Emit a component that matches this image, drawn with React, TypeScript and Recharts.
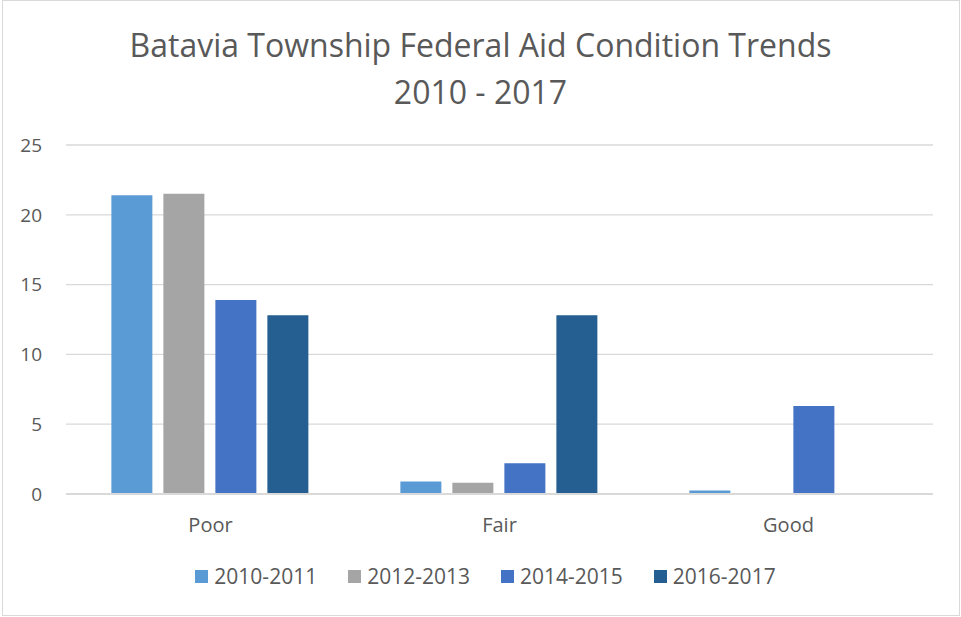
import { BarChart, Bar, XAxis, YAxis, CartesianGrid, Legend } from 'recharts'

const categories = ['Poor', 'Fair', 'Good']
const seriesNames = ['2010-2011', '2012-2013', '2014-2015', '2016-2017']
const values2010 = [21.4, 0.9, 0.25]
const values2012 = [21.5, 0.8, 0]
const values2014 = [13.9, 2.2, 6.3]
const values2016 = [12.8, 12.8, 0]
const yTicks = [0, 5, 10, 15, 20, 25]

const COLORS = ['#5B9BD5', '#A5A5A5', '#4472C4', '#255E91']
const FONT = '"Open Sans", sans-serif'
const TEXT = '#595959'

const data = categories.map((c, i) => ({
  name: c,
  [seriesNames[0]]: values2010[i],
  [seriesNames[1]]: values2012[i],
  [seriesNames[2]]: values2014[i],
  [seriesNames[3]]: values2016[i],
}))

function LegendContent() {
  return (
    <div style={{ display: 'flex', justifyContent: 'center', gap: 31, fontFamily: FONT, fontSize: 21, color: TEXT, height: 30, paddingLeft: 38 }}>
      {seriesNames.map((s, i) => (
        <div key={s} style={{ display: 'flex', alignItems: 'center' }}>
          <span style={{ width: 13, height: 13, background: COLORS[i], marginRight: 6, display: 'inline-block' }} />
          <span>{s}</span>
        </div>
      ))}
    </div>
  )
}

export default function App() {
  return (
    <div style={{ position: 'absolute', left: 0, top: 0, width: 961, height: 617, background: '#fff' }}>
      <div style={{ position: 'absolute', left: 2, top: 0, width: 958, height: 616, border: '1px solid #d9d9d9', boxSizing: 'border-box' }} />
      <div style={{ position: 'absolute', left: 0, top: 21, width: 961, textAlign: 'center', fontFamily: FONT, fontSize: 32, lineHeight: '47px', color: TEXT }}>
        <div>Batavia Township Federal Aid Condition Trends</div>
        <div>2010 - 2017</div>
      </div>
      <div style={{ position: 'absolute', left: 0, top: 0 }}>
        <BarChart width={961} height={617} data={data} margin={{ top: 145, right: 28, bottom: 43, left: 0 }} barCategoryGap="15.7%" barGap={11}>
          <CartesianGrid vertical={false} stroke="#d9d9d9" strokeWidth={1.3} />
          <XAxis dataKey="name" tickLine={false} axisLine={{ stroke: '#d9d9d9', strokeWidth: 2 }} tickSize={0} tickMargin={24} height={50}
            tick={{ fill: TEXT, fontSize: 20, fontFamily: FONT }} />
          <YAxis domain={[0, 25]} ticks={yTicks} width={66} tickLine={false} axisLine={false} tickSize={0} tickMargin={24}
            tick={{ fill: TEXT, fontSize: 19, fontFamily: FONT }} />
          <Legend verticalAlign="bottom" content={<LegendContent />} wrapperStyle={{ bottom: 26 }} />
          {seriesNames.map((s, i) => (
            <Bar key={s} dataKey={s} fill={COLORS[i]} isAnimationActive={false} />
          ))}
        </BarChart>
      </div>
    </div>
  )
}
